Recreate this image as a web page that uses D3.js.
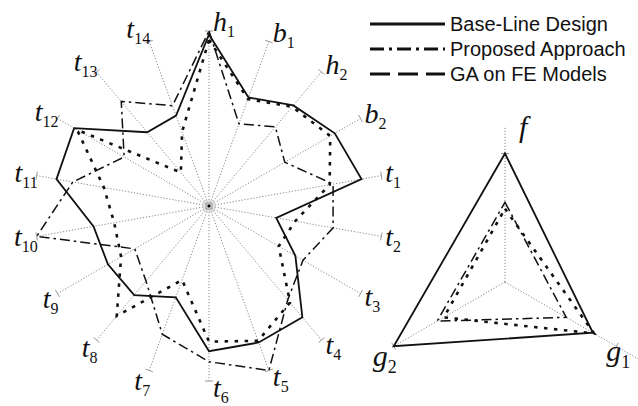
<!DOCTYPE html>
<html>
<head>
<meta charset="utf-8">
<script src="https://cdn.jsdelivr.net/npm/d3@7"></script>
<style>
  body { margin: 0; background: #fff; }
</style>
</head>
<body>
<div id="chart"></div>
<script>
var width = 638,
    height = 406;

// radar axes, clockwise from the top
var radarAxes = ["h1", "b1", "h2", "b2", "t1", "t2", "t3", "t4", "t5", "t6",
                 "t7", "t8", "t9", "t10", "t11", "t12", "t13", "t14"];

// normalised values (0 = centre, 1 = axis end)
var baseLine = [0.98, 0.66, 0.75, 0.83, 0.885, 0.39, 0.57, 0.83, 0.83, 0.83,
                0.555, 0.665, 0.667, 0.67, 0.885, 0.89, 0.55, 0.55];
var proposed = [1.0, 0.50, 0.59, 0.50, 0.72, 0.72, 0.62, 0.70, 1.0, 0.89,
                0.78, 0.56, 0.49, 1.0, 0.79, 0.56, 0.78, 0.61];
var gaModels = [0.95, 0.65, 0.74, 0.80, 0.70, 0.50, 0.46, 0.72, 0.82, 0.775,
                0.45, 0.82, 0.58, 0.55, 0.61, 0.87, 0.25, 0.45];

// small triangle chart
var triAxes = ["f", "g1", "g2"];
var triBase = [1.0, 0.79, 1.0];
var triProposed = [0.62, 0.55, 0.61];
var triGA = [0.57, 0.80, 0.55];

var legendNames = ["Base-Line Design", "Proposed Approach", "GA on FE Models"];

// line looks for the three series
var looks = [
    { width: 1.8, dash: null, legendDash: null },
    { width: 1.5, dash: "10,4,2.5,4", legendDash: "14,5,3,5" },
    { width: 2.6, dash: "3.5,6.5", legendDash: "20,8" }
];

var radar = { cx: 209, cy: 206, R: 175 };
var tri = { cx: 505, cy: 282, R: 128.5 };

var svg = d3.select("#chart")
    .append("svg")
    .attr("width", width)
    .attr("height", height);

function polar(c, r, a) {
    return [c.cx + r * Math.sin(a), c.cy - r * Math.cos(a)];
}

function axisLabel(g, name, x, y, anchor, size, subSize) {
    var m = name.match(/^([a-z])(\d*)$/);
    var t = g.append("text")
        .attr("x", x)
        .attr("y", y)
        .attr("text-anchor", anchor)
        .style("font-family", "'Liberation Serif', 'Times New Roman', serif")
        .style("font-size", size + "px")
        .style("fill", "#111");
    t.append("tspan").style("font-style", "italic").text(m[1]);
    if (m[2]) {
        t.append("tspan")
            .attr("dy", Math.round(subSize * 0.37))
            .style("font-size", subSize + "px")
            .text(m[2]);
    }
}

function drawAxes(g, c, axes, rScale, extend) {
    var n = axes.length;
    axes.forEach(function (name, i) {
        var a = i * 2 * Math.PI / n;
        var end = polar(c, rScale(1), a);
        var far = polar(c, rScale(extend[i]), a);
        g.append("line")
            .attr("x1", c.cx).attr("y1", c.cy)
            .attr("x2", far[0]).attr("y2", far[1])
            .attr("stroke", "#8a8a8a")
            .attr("stroke-width", 1)
            .attr("stroke-dasharray", "1.2,1.8");
        // little tick across the axis end
        var px = 4 * Math.cos(a), py = 4 * Math.sin(a);
        g.append("line")
            .attr("x1", end[0] - px).attr("y1", end[1] - py)
            .attr("x2", end[0] + px).attr("y2", end[1] + py)
            .attr("stroke", "#9a9a9a")
            .attr("stroke-width", 1);
    });
}

function drawSeries(g, c, series, rScale) {
    var n = series[0].length;
    var line = d3.lineRadial()
        .angle(function (d, i) { return i * 2 * Math.PI / n; })
        .radius(function (d) { return rScale(d); })
        .curve(d3.curveLinearClosed);

    // GA first, then proposed, solid base-line on top
    [2, 1, 0].forEach(function (k) {
        g.append("path")
            .attr("transform", "translate(" + c.cx + "," + c.cy + ")")
            .attr("d", line(series[k]))
            .attr("fill", "none")
            .attr("stroke", "#111")
            .attr("stroke-width", looks[k].width)
            .attr("stroke-dasharray", looks[k].dash)
            .attr("stroke-linejoin", "miter");
    });
}

// ---- radar chart ----
var rRadar = d3.scaleLinear().domain([0, 1]).range([0, radar.R]);
var gRadar = svg.append("g");

drawAxes(gRadar, radar, radarAxes, rRadar, radarAxes.map(function () { return 1; }));

// centre marker
[[10, "#c4c4c4"], [6, "#777"]].forEach(function (s) {
    gRadar.append("rect")
        .attr("x", radar.cx - s[0] / 2).attr("y", radar.cy - s[0] / 2)
        .attr("width", s[0]).attr("height", s[0])
        .attr("fill", "#fff")
        .attr("stroke", s[1]);
});
gRadar.append("rect")
    .attr("x", radar.cx - 1.5).attr("y", radar.cy - 1.5)
    .attr("width", 3).attr("height", 3)
    .attr("fill", "#000");

drawSeries(gRadar, radar, [baseLine, proposed, gaModels], rRadar);

radarAxes.forEach(function (name, i) {
    var a = i * 2 * Math.PI / radarAxes.length;
    var end = polar(radar, rRadar(1), a);
    var right = Math.sin(a) > -0.01;
    var y = end[1] + 8 - (right ? 8 : 12) * Math.cos(a);
    axisLabel(gRadar, name, right ? end[0] + 4 : end[0] + 1, y,
        right ? "start" : "end", 28, 16);
});

// ---- triangle chart ----
var rTri = d3.scaleLinear().domain([0, 1]).range([0, tri.R]);
var gTri = svg.append("g");

drawAxes(gTri, tri, triAxes, rTri, [1.2, 1.2, 1.02]);
drawSeries(gTri, tri, [triBase, triProposed, triGA], rTri);

var triLabelPos = [
    { dx: 14, dy: -17, anchor: "start" },
    { dx: -10, dy: 15, anchor: "start" },
    { dx: 3, dy: 20, anchor: "end" }
];
triAxes.forEach(function (name, i) {
    var a = i * 2 * Math.PI / triAxes.length;
    var end = polar(tri, rTri(1), a);
    var p = triLabelPos[i];
    axisLabel(gTri, name, end[0] + p.dx, end[1] + p.dy, p.anchor, 30, 18);
});

// ---- legend ----
var legend = svg.append("g").attr("transform", "translate(370,24)");
legendNames.forEach(function (name, i) {
    var row = legend.append("g").attr("transform", "translate(0," + (i * 25) + ")");
    row.append("line")
        .attr("x1", 0).attr("x2", 75)
        .attr("y1", 0).attr("y2", 0)
        .attr("stroke", "#111")
        .attr("stroke-width", 3.2)
        .attr("stroke-dasharray", looks[i].legendDash);
    row.append("text")
        .attr("x", 80)
        .attr("y", 7)
        .style("font-family", "'Liberation Sans', Arial, sans-serif")
        .style("font-size", "20px")
        .style("fill", "#111")
        .text(name);
});
</script>
</body>
</html>
